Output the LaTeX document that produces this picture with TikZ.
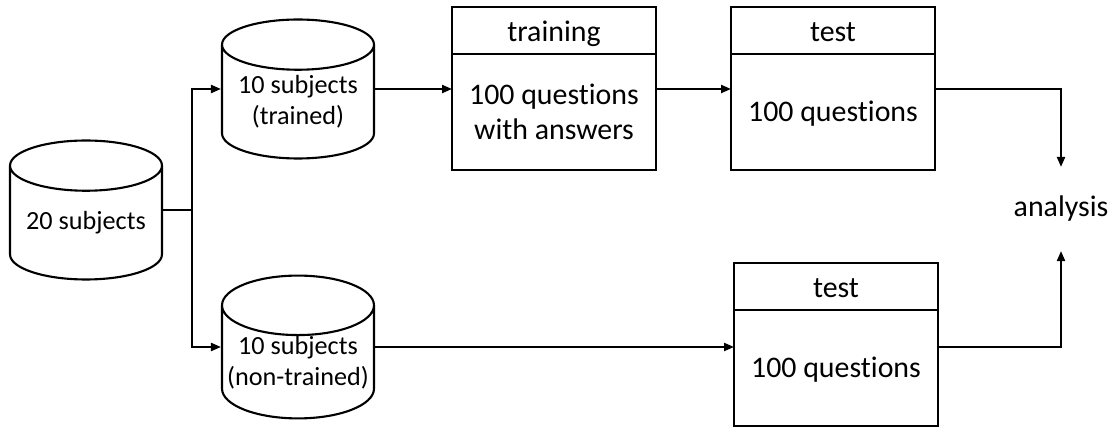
\documentclass[tikz,border=0pt]{standalone}
\usepackage{fontspec}
\setmainfont{Carlito}[Ligatures=NoCommon]
\usetikzlibrary{shapes.geometric, positioning, arrows.meta}

\begin{document}
\begin{tikzpicture}[x=0.02cm, y=-0.02cm, line width=1.2pt,
every node/.style={font=\fontsize{17}{20}\selectfont},
store/.style={cylinder, shape border rotate=90, draw, aspect=0.42, minimum width=3.04cm, minimum height=2.78cm, align=center, inner sep=0pt, anchor=shape center, font=\fontsize{14.9}{17.5}\selectfont},
head/.style={rectangle, draw, minimum width=4.08cm, minimum height=0.94cm, text height=0.52cm, text depth=0.08cm, inner sep=0pt, outer sep=0pt},
body/.style={rectangle, draw, minimum width=4.08cm, minimum height=2.32cm, align=center, inner sep=0pt, outer sep=0pt},
arr/.style={-{Triangle[length=0.2cm, width=0.16cm]}}]
\useasboundingbox (0,0) rectangle (1115,428);
%subjects
\node[store] (sub20) at (86,210) {20 subjects};
\node[store] (trained) at (298,89) {10 subjects\\(trained)};
\node[store] (untrained) at (298,347) {10 subjects\\(non-trained)};
%sessions
\node[head] (trainhead) at (554,30.5) {training};
\node[body, below=0pt of trainhead] (trainbody) {100 questions\\with answers};
\node[head] (testhead) at (833,30.5) {test};
\node[body, below=0pt of testhead, text height=0.46cm, text depth=0.08cm] (testbody) {100 questions};
\node[head] (test2head) at (836,286.5) {test};
\node[body, below=0pt of test2head, text height=0.46cm, text depth=0.08cm] (test2body) {100 questions};
\node[minimum height=1.64cm, inner sep=0pt] (analysis) at (1061,209) {analysis};
%arrows
\coordinate (split) at (192,210);
\draw (sub20.east |- sub20.shape center) -- (split);
\draw[arr] (split) |- (trained.west |- trained.shape center);
\draw[arr] (split) |- (untrained.west |- untrained.shape center);
\draw[arr] (trained.east |- trained.shape center) -- (trainbody.west |- trained.shape center);
\draw[arr] (trainbody.east |- trained.shape center) -- (testbody.west |- trained.shape center);
\draw[arr] (testbody.east |- trained.shape center) -| (analysis.north);
\draw[arr] (untrained.east |- untrained.shape center) -- (test2body.west |- untrained.shape center);
\draw[arr] (test2body.east |- untrained.shape center) -| (analysis.south);
\end{tikzpicture}
\end{document}
